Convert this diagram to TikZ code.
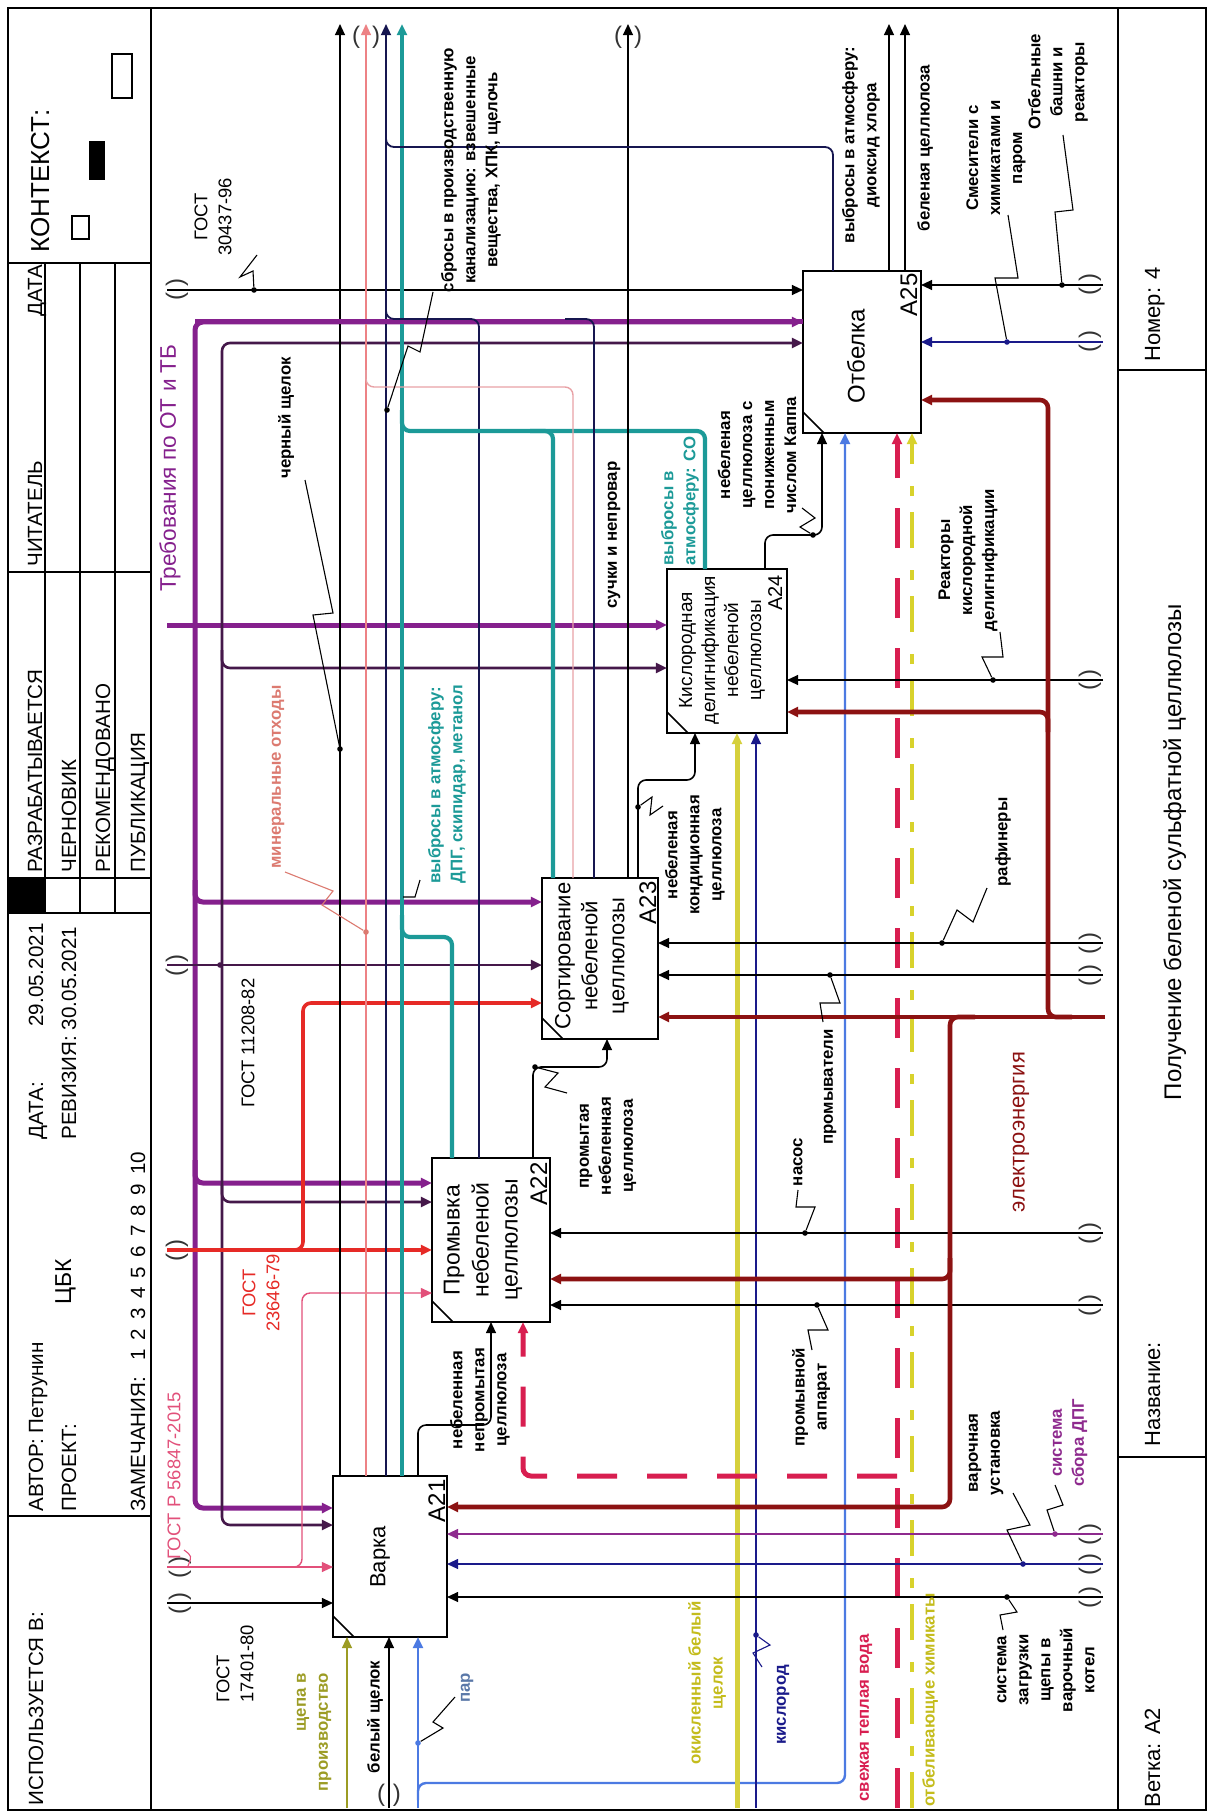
\documentclass[tikz,border=0pt]{standalone}
\usepackage{fontspec}
\setmainfont{Liberation Sans}
\usetikzlibrary{arrows.meta,calc}

\definecolor{cPurple}{HTML}{85208D}
\definecolor{cDPurple}{HTML}{45184A}
\definecolor{cTeal}{HTML}{1C9A98}
\definecolor{cRose}{HTML}{E8A2A6}
\definecolor{cPinkR}{HTML}{E2507A}
\definecolor{cRed}{HTML}{E62A26}
\definecolor{cDRed}{HTML}{8C1212}
\definecolor{cNavy}{HTML}{161650}
\definecolor{cNavyB}{HTML}{1A1A8A}
\definecolor{cYel}{HTML}{D6D03C}
\definecolor{cOlive}{HTML}{9C9C24}
\definecolor{cBlue}{HTML}{4C7AE2}
\definecolor{cCrim}{HTML}{D81E50}
\definecolor{cYelD}{HTML}{D8D22C}
\definecolor{cSalmon}{HTML}{DC7A70}
\definecolor{cPurT}{HTML}{8E2A8E}
\definecolor{cSteel}{HTML}{5A78A8}
\definecolor{cYelT}{HTML}{C4BC1C}

\newcommand\fHd{\fontsize{10.3}{12}\selectfont}
\newcommand\fLb{\fontsize{8.4}{11}\selectfont\bfseries}
\newcommand\fGs{\fontsize{9.2}{12}\selectfont}
\newcommand\fBx{\fontsize{11.5}{14.5}\selectfont}
\newcommand\zgap{\hspace{4.6pt}}

\tikzset{
  frm/.style={line width=0.9pt},
  blk/.style={draw, line width=1pt, outer sep=0pt, inner sep=0pt},
  tx/.style={rotate=90, inner sep=0pt, align=center},
  hd/.style={tx, font=\fHd},
  lb/.style={tx, font=\fLb},
  gs/.style={tx, font=\fGs},
  bt/.style={tx, font=\fBx},
  tip/.style={-{Triangle[length=5.6pt,width=5pt]}},
  rc/.style={rounded corners=4pt},
  ln/.style={draw=black, line width=0.8pt},
  pth/.style={draw=cPurple, line width=2.5pt},
  dp/.style={draw=cDPurple, line width=1.3pt},
  tl/.style={draw=cTeal, line width=2.1pt},
  rs/.style={draw=cRose, line width=0.7pt},
  pr/.style={draw=cPinkR, line width=0.7pt},
  rd/.style={draw=cRed, line width=1.8pt},
  dr/.style={draw=cDRed, line width=2.3pt},
  nv/.style={draw=cNavy, line width=0.9pt},
  nb/.style={draw=cNavyB, line width=0.8pt},
  yl/.style={draw=cYel, line width=2.5pt},
  ol/.style={draw=cOlive, line width=0.8pt},
  bl/.style={draw=cBlue, line width=1.2pt},
  rdash/.style={draw=cCrim, line width=2.5pt, dash pattern=on 20pt off 15pt},
  ydash/.style={draw=cYelD, line width=1.8pt, dash pattern=on 18pt off 8pt on 5pt off 11pt},
  pu/.style={draw=cPurT, line width=0.8pt},
  ldr/.style={draw=black, line width=0.55pt},
  jd/.style={circle, fill=black, inner sep=0pt, minimum size=2.8pt},
  tun/.style={inner sep=0pt, font=\fontsize{12}{14}\selectfont, text=black!80},
  tunr/.style={tun, rotate=90},
}

\begin{document}
\begin{tikzpicture}[x=0.5pt,y=-0.5pt]
\useasboundingbox (0,0) rectangle (1209,1813);
\fill[white] (0,0) rectangle (1209,1813);

% ---------- sheet frame ----------
\draw[frm] (8,8) rectangle (1206,1810);
\draw[frm] (151,8) -- (151,1810);
\draw[frm] (1118,8) -- (1118,1810);
\foreach \yy in {263,572,913,1516} \draw[frm] (8,\yy) -- (151,\yy);
\foreach \xx in {45,80,115} \draw[frm] (\xx,263) -- (\xx,913);
\draw[frm] (8,878) -- (151,878);
\fill (8,878) rectangle (45,913);
\draw[frm] (1118,370) -- (1206,370);
\draw[frm] (1118,1457) -- (1206,1457);
\draw[frm] (112,54) rectangle (132,98);
\fill (89,141) rectangle (105,180);
\draw[frm] (72,216) rectangle (89,239);

% ---------- header texts ----------
\node[hd, anchor=base west] (hUsed) at (43,1806) {ИСПОЛЬЗУЕТСЯ В:};
\node[hd, anchor=base west] (hAuth) at (43,1512) {АВТОР: Петрунин};
\node[hd, anchor=base west] (hProj) at (76,1512) {ПРОЕКТ:};
\node[tx, font=\fontsize{11.5}{13}\selectfont, anchor=base west] (hCbk) at (71,1305) {ЦБК};
\node[hd, anchor=base west] (hNotes) at (145,1512) {ЗАМЕЧАНИЯ:\hspace{8pt}1\zgap 2\zgap 3\zgap 4\zgap 5\zgap 6\zgap 7\zgap 8\zgap 9\zgap 10};
\node[hd, anchor=base west] (hDate) at (43,1140) {ДАТА:};
\node[hd, anchor=base west] (hDateV) at (43,1027) {29.05.2021};
\node[hd, anchor=base west] (hRev) at (76,1140) {РЕВИЗИЯ: 30.05.2021};
\node[hd, anchor=base west] (hWork) at (42,873) {РАЗРАБАТЫВАЕТСЯ};
\node[hd, anchor=base west] (hDraft) at (76,873) {ЧЕРНОВИК};
\node[hd, anchor=base west] (hRec) at (110,873) {РЕКОМЕНДОВАНО};
\node[hd, anchor=base west] (hPub) at (145,873) {ПУБЛИКАЦИЯ};
\node[hd, anchor=base west] (hReader) at (42,567) {ЧИТАТЕЛЬ};
\node[hd, anchor=base west] (hDate2) at (42,317) {ДАТА};
\node[tx, font=\fontsize{13}{15}\selectfont, anchor=base west] (hCtx) at (49,253) {КОНТЕКСТ:};

% ---------- footer texts ----------
\node[tx, font=\fontsize{11}{13}\selectfont, anchor=base west] (fNum) at (1160,362) {Номер: 4};
\node[tx, font=\fontsize{11}{13}\selectfont, anchor=base west] (fName) at (1160,1447) {Название:};
\node[tx, font=\fontsize{11}{13}\selectfont, anchor=base west] (fBr) at (1160,1808) {Ветка: A2};
\node[tx, font=\fontsize{12}{14}\selectfont, anchor=base] (fTitle) at (1181,852) {Получение беленой сульфатной целлюлозы};

% ---------- activity boxes ----------
\node[blk, minimum width=57pt, minimum height=80.5pt] (A21) at (390,1556.5) {};
\node[blk, minimum width=59pt, minimum height=82pt] (A22) at (491,1240) {};
\node[blk, minimum width=58pt, minimum height=80.5pt] (A23) at (600,958.5) {};
\node[blk, minimum width=60pt, minimum height=82pt] (A24) at (727,651) {};
\node[blk, minimum width=59pt, minimum height=81pt] (A25) at (862,352) {};
\foreach \b in {A21,A22,A23,A24,A25}
  \draw[line width=0.8pt] (\b.south west) +(0,-21) -- +(21,0);

\node[tx, font=\fontsize{11}{13}\selectfont] (tA21) at (380,1557) {Варка};
\node[bt] (tA22) at (483,1240) {Промывка\\небеленой\\целлюлозы};
\node[tx, font=\fontsize{11}{13.5}\selectfont] (tA23) at (592,956) {Сортирование\\небеленой\\целлюлозы};
\node[tx, font=\fontsize{9.5}{11.5}\selectfont] (tA24) at (722,650) {Кислородная\\делигнификация\\небеленой\\целлюлозы};
\node[tx, font=\fontsize{12}{14}\selectfont] (tA25) at (856,356) {Отбелка};

\node[tx, font=\fontsize{12}{14}\selectfont, anchor=base east] (nA21) at ($(A21.north east)+(-2,3)$) {A21};
\node[tx, font=\fontsize{12}{14}\selectfont, anchor=base east] (nA22) at ($(A22.north east)+(-3,4)$) {A22};
\node[tx, font=\fontsize{12}{14}\selectfont, anchor=base east] (nA23) at ($(A23.north east)+(-2,3)$) {A23};
\node[tx, font=\fontsize{10}{12}\selectfont, anchor=base east] (nA24) at ($(A24.north east)+(-5,6)$) {A24};
\node[tx, font=\fontsize{12}{14}\selectfont, anchor=base east] (nA25) at ($(A25.north east)+(-4,2)$) {A25};

% ---------- controls (from the left) ----------
\draw[ln, tip] (167,290) -- (A25.west |- 0,290);
\draw[ln, tip] (167,1603) -- (A21.west |- 0,1603);
% Требования по ОТ и ТБ
\draw[pth, tip] (167,625) -- (A24.west |- 0,625);
\draw[pth, tip, rc] (195,625) -- (195,322) -- (A25.west |- 0,322);
\draw[pth, tip, rc] (195,625) -- (195,1508) -- (A21.west |- 0,1508);
\draw[pth, tip, rc] (195,880) -- (195,902) -- (A23.west |- 0,902);
\draw[pth, tip, rc] (195,1160) -- (195,1183) -- (A22.west |- 0,1183);
% ГОСТ 11208-82
\draw[dp, tip] (167,965) -- (A23.west |- 0,965);
\draw[dp, tip, rc] (222,965) -- (222,343) -- (A25.west |- 0,343);
\draw[dp, tip, rc] (222,965) -- (222,1525) -- (A21.west |- 0,1525);
\draw[dp, tip, rc] (222,650) -- (222,668) -- (A24.west |- 0,668);
\draw[dp, tip, rc] (222,1185) -- (222,1202) -- (A22.west |- 0,1202);
\node[jd, fill=cDPurple] (jDP) at (220,965) {};
% ГОСТ 23646-79
\draw[rd, tip] (167,1250) -- (A22.west |- 0,1250);
\draw[rd, tip, rc] (280,1250) -- (303,1250) -- (303,1003) -- (A23.west |- 0,1003);
% ГОСТ Р 56847-2015
\draw[pr, tip] (167,1567) -- (A21.west |- 0,1567);
\draw[pr, tip, rc] (282,1567) -- (302,1567) -- (302,1293) -- (A22.west |- 0,1293);

% ---------- outputs ----------
\draw[ln, tip] (A21.north -| 340,0) -- (340,24);
\draw[rs, draw=cRose!80!red, tip] (A21.north -| 366,0) -- (366,24);
\draw[nv, tip] (A21.north -| 386,0) -- (386,24);
\draw[tl, tip] (A21.north -| 402,0) -- (402,24);
\draw[ln, tip, rc] (A21.north -| 418,0) -- (418,1425) -- (491,1425) -- (A22.south -| 491,0);

\draw[tl, rc] (A22.north -| 452,0) -- (452,937) -- (402,937) -- (402,915);
\draw[pth] (195,322) -- (A25.west |- 0,322);
\draw[nv, rc] (A22.north -| 479,0) -- (479,319) -- (386,319) -- (386,300);
\draw[ln, tip, rc] (A22.north -| 533,0) -- (533,1067) -- (607,1067) -- (A23.south -| 607,0);

\draw[tl, rc] (A24.north -| 705,0) -- (705,431) -- (402,431) -- (402,410);
\draw[tl, rc] (A23.north -| 553,0) -- (553,431) -- (530,431);
\draw[rs, rc] (A23.north -| 573,0) -- (573,387) -- (366,387) -- (366,370);
\draw[nv, rc] (A23.north -| 594,0) -- (594,319) -- (565,319);
\draw[ln, tip] (A23.north -| 628,0) -- (628,24);
\draw[ln, tip, rc] (A23.north -| 638,0) -- (638,780) -- (695,780) -- (A24.south -| 695,0);

\draw[ln, tip, rc] (A24.north -| 765,0) -- (765,535) -- (822,535) -- (A25.south -| 822,0);

\draw[nv, rc] (A25.north -| 833,0) -- (833,147) -- (386,147) -- (386,130);
\draw[ln, tip] (A25.north -| 889,0) -- (889,24);
\draw[ln, tip] (A25.north -| 905,0) -- (905,24);

% ---------- inputs (from below) ----------
\draw[ol, tip] (347,1808) -- (A21.south -| 347,0);
\draw[ln, tip] (389,1808) -- (A21.south -| 389,0);
\draw[bl, tip] (418,1808) -- (A21.south -| 418,0);
\draw[bl, tip, rc] (418,1800) -- (418,1783) -- (845,1783) -- (A25.south -| 845,0);
\draw[yl, tip] (737,1808) -- (A24.south -| 737,0);
\draw[nb, tip] (756,1808) -- (A24.south -| 756,0);
\draw[rdash, tip] (897,1808) -- (A25.south -| 897,0);
\draw[rdash, tip, rc] (897,1476) -- (523,1476) -- (A22.south -| 523,0);
\draw[ydash, tip] (912,1808) -- (A25.south -| 912,0);

% ---------- mechanisms (from the right) ----------
\draw[pu, tip] (1103,1534) -- (A21.east |- 0,1534);
\draw[nb, tip] (1103,1564) -- (A21.east |- 0,1564);
\draw[ln, tip] (1103,1597) -- (A21.east |- 0,1597);
\draw[ln, tip] (1103,1233) -- (A22.east |- 0,1233);
\draw[ln, tip] (1103,1305) -- (A22.east |- 0,1305);
\draw[ln, tip] (1103,943) -- (A23.east |- 0,943);
\draw[ln, tip] (1103,975) -- (A23.east |- 0,975);
\draw[ln, tip] (1103,680) -- (A24.east |- 0,680);
\draw[ln, tip] (1103,285) -- (A25.east |- 0,285);
\draw[nb, tip] (1103,342) -- (A25.east |- 0,342);
% электроэнергия
\draw[dr, tip] (1105,1017) -- (A23.east |- 0,1017);
\draw[dr, tip, rc] (975,1017) -- (950,1017) -- (950,1507) -- (A21.east |- 0,1507);
\draw[dr, tip, rc] (950,1258) -- (950,1279) -- (A22.east |- 0,1279);
\draw[dr, tip, rc] (1072,1017) -- (1048,1017) -- (1048,400) -- (A25.east |- 0,400);
\draw[dr, tip, rc] (1048,732) -- (1048,712) -- (A24.east |- 0,712);

% ---------- tunnel marks ----------
\node[tunr] (tu1) at (177,290) {(\hspace{3pt})};
\node[tunr] (tu2) at (177,965) {(\hspace{3pt})};
\node[tunr] (tu3) at (177,1250) {(\hspace{3pt})};
\node[tunr] (tu4) at (180,1567) {(\hspace{3pt})};
\node[tunr] (tu5) at (180,1603) {(\hspace{3pt})};
\foreach \yy [count=\i] in {285,342,680,943,975,1233,1305,1534,1564,1597}
  \node[tunr] (tm\i) at (1090,\yy) {(\hspace{3pt})};
\node[tun] (tb1) at (389,1795) {(\hspace{4pt})};
\node[tun] (tt1) at (366,37) {(\hspace{6pt})};
\node[tun] (tt2) at (628,37) {(\hspace{6pt})};

% ---------- arrow labels ----------
\node[gs] (gGost1) at (213,217) {ГОСТ\\30437-96};
\node[gs] (gGost2) at (248,1043) {ГОСТ 11208-82};
\node[gs, text=cRed] (gGost3) at (261,1293) {ГОСТ\\23646-79};
\node[gs, text=cPinkR] (gGost4) at (174,1476) {ГОСТ Р 56847-2015};
\node[gs, align=left, anchor=west] (gGost5) at (235,1703) {ГОСТ\\17401-80};
\node[tx, font=\fontsize{11.3}{13}\selectfont, text=cPurple] (gReq) at (170,468) {Требования по ОТ и ТБ};
\node[tx, font=\fontsize{11}{13}\selectfont, text=cDRed] (gEl) at (1021,1132) {электроэнергия};

\node[lb] (lBlack) at (286,418) {черный щелок};
\node[lb, text=cSalmon] (lMin) at (278,777) {минеральные отходы};
\node[lb, text=cTeal, align=left, anchor=west] (lDpg) at (447,884) {выбросы в атмосферу:\\ДПГ, скипидар, метанол};
\node[lb] (lSbr) at (471,170) {сбросы в производственную\\канализацию: взвешенные\\вещества, ХПК, щелочь};
\node[lb] (lSuch) at (614,535) {сучки и непровар};
\node[lb, text=cTeal, align=left, anchor=west] (lCO) at (680,566) {выбросы в\\атмосферу: CO};
\node[lb] (lKappa) at (757,455) {небеленая\\целлюлоза с\\пониженным\\числом Каппа};
\node[lb] (lCond) at (695,855) {небеленая\\кондиционная\\целлюлоза};
\node[lb] (lWashed) at (608,1146) {промытая\\небеленная\\целлюлоза};
\node[lb] (lUnw) at (480,1400) {небеленная\\непромытая\\целлюлоза};
\node[lb] (lPump) at (798,1162) {насос};
\node[lb] (lWasher) at (830,1087) {промыватели};
\node[lb] (lRef) at (1003,842) {рафинеры};
\node[lb] (lReact) at (968,560) {Реакторы\\кислородной\\делигнификации};
\node[lb] (lTow) at (1058,82) {Отбельные\\башни и\\реакторы};
\node[lb] (lMix) at (996,158) {Смесители с\\химикатами и\\паром};
\node[lb] (lClO2) at (861,145) {выбросы в атмосферу:\\диоксид хлора};
\node[lb] (lBl) at (925,148) {беленая целлюлоза};
\node[lb, text=cOlive, align=right, anchor=east] (lChip) at (314,1673) {щепа в\\производство};
\node[lb] (lWL) at (375,1717) {белый щелок};
\node[lb, text=cSteel] (lSteam) at (467,1688) {пар};
\node[lb, text=cYelT] (lOx) at (707,1683) {окисленный белый\\щелок};
\node[lb, text=cNavyB] (lO2) at (783,1705) {кислород};
\node[lb, text=cCrim] (lWater) at (866,1718) {свежая теплая вода};
\node[lb, text=cYelT] (lBleach) at (930,1700) {отбеливающие химикаты};
\node[lb] (lWashA) at (811,1397) {промывной\\аппарат};
\node[lb] (lCook) at (986,1453) {варочная\\установка};
\node[lb, text=cPurT] (lDpgSys) at (1070,1443) {система\\сбора ДПГ};
\node[lb] (lLoad) at (1046,1670) {система\\загрузки\\щепы в\\варочный\\котел};

% ---------- label leaders ----------
\node[jd] (dBlack) at (340,749) {};
\draw[ldr] (dBlack) -- (313,615) -- (333,613) -- (305,480);
\node[jd, fill=cSalmon] (dMin) at (366,932) {};
\draw[ldr, draw=cSalmon] (dMin) -- (322,905) -- (333,891) -- (285,872);
\node[jd] (dSbr) at (387,410) {};
\draw[ldr] (dSbr) -- (408,346) -- (420,352) -- (433,292);
\node[jd] (dGost1) at (254,290) {};
\draw[ldr] (dGost1) -- (253,271) -- (240,277) -- (257,255);
\draw[ldr] (403,897) -- (415,897) -- (420,880);
\node[jd] (dWashed) at (535,1067) {};
\draw[ldr] (dWashed) -- (558,1073) -- (545,1087) -- (567,1093);
\node[jd] (dCond) at (638,807) {};
\draw[ldr] (dCond) -- (652,797) -- (650,815) -- (663,806);
\node[jd] (dKappa) at (813,535) {};
\draw[ldr] (dKappa) -- (800,527) -- (815,518) -- (802,508);
\node[jd, fill=cBlue] (dSteam) at (418,1743) {};
\draw[ldr] (dSteam) -- (443,1728) -- (433,1722) -- (455,1697);
\node[jd, fill=cNavyB] (dO2) at (756,1635) {};
\draw[ldr, draw=cNavyB] (dO2) -- (770,1645) -- (753,1653) -- (762,1667);
\node[jd] (dPump) at (805,1233) {};
\draw[ldr] (dPump) -- (815,1207) -- (796,1207) -- (798,1190);
\node[jd] (dWashA) at (817,1305) {};
\draw[ldr] (dWashA) -- (828,1330) -- (808,1330) -- (812,1350);
\node[jd] (dWasher) at (830,975) {};
\draw[ldr] (dWasher) -- (840,1003) -- (820,1003) -- (823,1022);
\node[jd] (dRef) at (942,943) {};
\draw[ldr] (dRef) -- (957,910) -- (973,922) -- (987,888);
\node[jd] (dReact) at (993,680) {};
\draw[ldr] (dReact) -- (982,657) -- (1003,657) -- (1000,632);
\node[jd] (dTow) at (1062,285) {};
\draw[ldr] (dTow) -- (1055,212) -- (1073,210) -- (1063,135);
\node[jd, fill=cNavyB] (dMix) at (1007,342) {};
\draw[ldr] (dMix) -- (995,278) -- (1018,278) -- (1008,215);
\node[jd, fill=cNavyB] (dCook) at (1023,1564) {};
\draw[ldr] (dCook) -- (1007,1530) -- (1030,1525) -- (1013,1493);
\node[jd, fill=cPurT] (dDpgSys) at (1055,1534) {};
\draw[ldr] (dDpgSys) -- (1047,1510) -- (1063,1505) -- (1055,1485);
\node[jd] (dLoad) at (1007,1597) {};
\draw[ldr] (dLoad) -- (1017,1612) -- (1000,1615) -- (1003,1630);
\draw[ldr, draw=cPinkR] (184,1550) .. controls (192,1556) .. (188,1566);
\end{tikzpicture}
\end{document}
